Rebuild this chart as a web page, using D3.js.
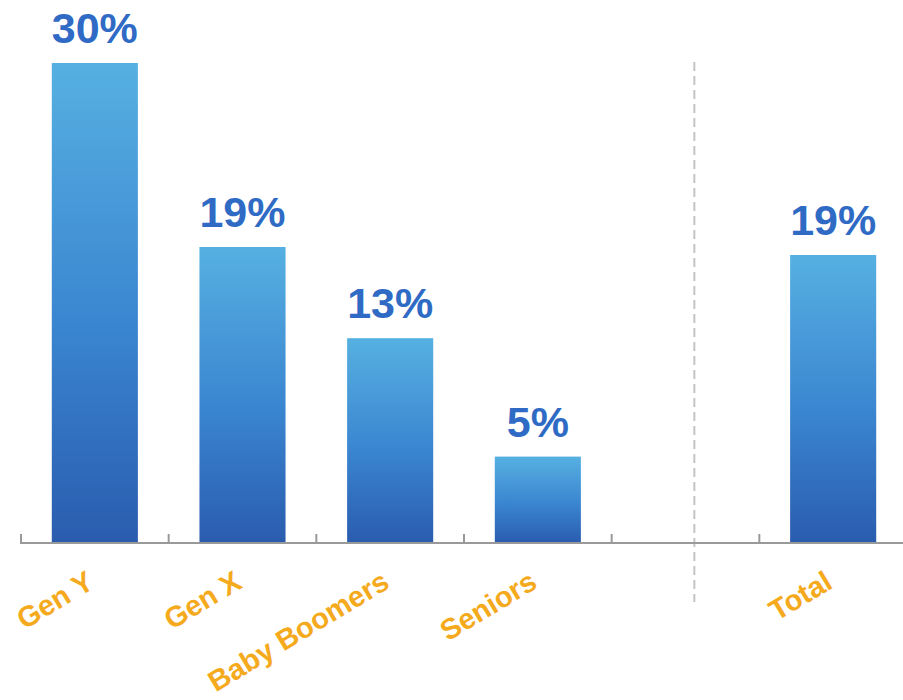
<!DOCTYPE html>
<html>
<head>
<meta charset="utf-8">
<script src="https://cdn.jsdelivr.net/npm/d3@7"></script>
<style>
  html, body { margin: 0; padding: 0; background: #fff; }
  svg { display: block; font-family: "Liberation Sans", Arial, sans-serif; }
</style>
</head>
<body>
<svg id="chart" width="903" height="700"></svg>
<script>
// data
const categories = ["Gen Y", "Gen X", "Baby Boomers", "Seniors", "", "Total"];
const shares = [30.0, 18.5, 12.8, 5.4, null, 18.0];
const shareLabels = ["30%", "19%", "13%", "5%", "", "19%"];

const svg = d3.select("#chart");
const width = 903, height = 700;
const baseline = 543;

const x = d3.scaleBand()
    .domain(categories)
    .range([21, 907])
    .paddingInner(0.417)
    .paddingOuter(0.2085);

const y = d3.scaleLinear()
    .domain([0, 30])
    .range([baseline, 63]);

const rows = categories.map((c, i) => ({ cat: c, value: shares[i], label: shareLabels[i] }));
const bars = rows.filter(d => d.value != null);

// gradient for bars
const defs = svg.append("defs");
const grad = defs.append("linearGradient")
    .attr("id", "barGrad")
    .attr("x1", 0).attr("y1", 0).attr("x2", 0).attr("y2", 1);
grad.append("stop").attr("offset", "0%").attr("stop-color", "#56b0e1");
grad.append("stop").attr("offset", "55%").attr("stop-color", "#3a85d0");
grad.append("stop").attr("offset", "100%").attr("stop-color", "#2a5cae");

// separator before Total
const step = x.step();
const gapX = x("") - step * x.paddingInner() / 2 + step * 0.56;
svg.append("line")
    .attr("x1", gapX).attr("x2", gapX)
    .attr("y1", 62).attr("y2", 602)
    .attr("stroke", "#c4c4c4")
    .attr("stroke-width", 2)
    .attr("stroke-dasharray", "9,5");

// bars
svg.append("g")
    .selectAll("rect")
    .data(bars)
    .enter().append("rect")
    .attr("x", d => x(d.cat))
    .attr("width", x.bandwidth())
    .attr("y", d => y(d.value))
    .attr("height", d => baseline - y(d.value))
    .attr("fill", "url(#barGrad)");

// value labels
svg.append("g")
    .selectAll("text")
    .data(bars)
    .enter().append("text")
    .attr("x", d => x(d.cat) + x.bandwidth() / 2)
    .attr("y", d => y(d.value) - 20)
    .attr("text-anchor", "middle")
    .attr("font-size", 43)
    .attr("font-weight", "bold")
    .attr("fill", "#2f6bc5")
    .text(d => d.label);

// axis line + ticks at band boundaries
svg.append("line")
    .attr("x1", 20).attr("x2", width)
    .attr("y1", baseline).attr("y2", baseline)
    .attr("stroke", "#999")
    .attr("stroke-width", 2);

svg.append("g")
    .selectAll("line")
    .data(categories)
    .enter().append("line")
    .attr("x1", d => x(d) - step * x.paddingInner() / 2)
    .attr("x2", d => x(d) - step * x.paddingInner() / 2)
    .attr("y1", baseline - 9)
    .attr("y2", baseline)
    .attr("stroke", "#999")
    .attr("stroke-width", 2);

// category labels, rotated
svg.append("g")
    .selectAll("text")
    .data(rows.filter(d => d.cat !== ""))
    .enter().append("text")
    .attr("transform", d => `translate(${x(d.cat) + x.bandwidth() / 2 + 1},${baseline + 44}) rotate(-31)`)
    .attr("text-anchor", "end")
    .attr("font-size", 29)
    .attr("font-weight", "bold")
    .attr("fill", "#f5aa1e")
    .text(d => d.cat);
</script>
</body>
</html>
